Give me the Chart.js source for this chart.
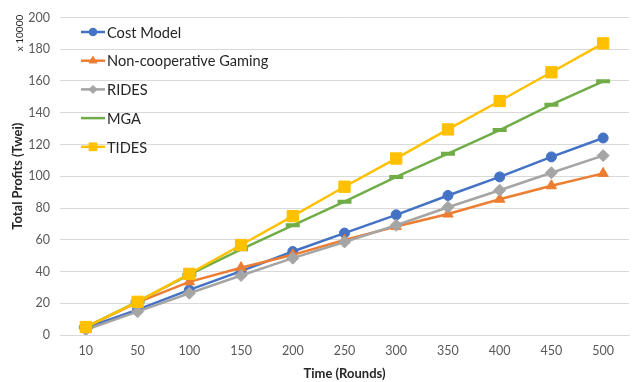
<!DOCTYPE html>
<html>
<head>
<meta charset="utf-8">
<script src="https://cdn.jsdelivr.net/npm/chart.js@4.4.0/dist/chart.umd.min.js"></script>
<style>
  html, body { margin: 0; padding: 0; background: #fff; overflow: hidden; }
  #wrap { width: 640px; height: 382px; }
</style>
</head>
<body>
<div id="wrap"><canvas id="profitChart"></canvas></div>
<script>
// rounds on the x axis, profits in units of 10000 Twei
const rounds = ["10", "50", "100", "150", "200", "250", "300", "350", "400", "450", "500"];
const costModel = [4.5, 16, 28.4, 40.2, 52.6, 64.2, 75.7, 87.9, 99.6, 112.2, 124.1];
const nonCoop = [5, 20.5, 33.5, 42.4, 50.5, 59.8, 68.3, 76.2, 85.5, 94, 101.8];
const rides = [3.3, 14.7, 26.3, 37.5, 48.4, 58.6, 69.1, 80.5, 91.2, 102.2, 113];
const mga = [5, 21, 38, 54, 69.1, 84, 99.6, 114.2, 129.1, 145.1, 159.8];
const tides = [5, 20.9, 38.5, 56.7, 74.9, 93.4, 111.2, 129.5, 147.4, 165.5, 183.7];

const seriesNames = ["Cost Model", "Non-cooperative Gaming", "RIDES", "MGA", "TIDES"];
const seriesColors = ["#4472C4", "#ED7D31", "#A5A5A5", "#70AD47", "#FFC000"];

const FONT = "Lato, 'Open Sans', sans-serif";

function makeDataset(i, values, style, radius, extra) {
    return Object.assign({
        label: seriesNames[i],
        data: values,
        borderColor: seriesColors[i],
        backgroundColor: seriesColors[i],
        borderWidth: 2.5,
        tension: 0,
        fill: false,
        pointStyle: style,
        pointRadius: radius,
        pointBorderWidth: 1,
        pointHoverRadius: radius,
        order: 5 - i,
    }, extra || {});
}

// legend drawn inside the plot, line + marker like the series
const innerLegend = {
    id: "innerLegend",
    afterDraw(chart) {
        const ctx = chart.ctx;
        ctx.save();
        chart.data.datasets.forEach((ds, i) => {
            const y = 32 + i * 28.7;
            ctx.strokeStyle = ds.borderColor;
            ctx.lineWidth = 2.5;
            ctx.beginPath();
            ctx.moveTo(81, y);
            ctx.lineTo(105, y);
            ctx.stroke();
            if (ds.pointStyle !== "line") {
                ctx.fillStyle = ds.backgroundColor;
                ctx.lineWidth = 1;
                Chart.helpers.drawPoint(ctx, {
                    pointStyle: ds.pointStyle,
                    radius: ds.legendRadius,
                    rotation: 0,
                    borderWidth: 1,
                }, 93, y);
            }
            ctx.fillStyle = "#262626";
            ctx.font = "14.6px " + FONT;
            ctx.textBaseline = "middle";
            ctx.textAlign = "left";
            ctx.fillText(ds.label, 107, y + 1);
        });

        // unit note beside the y axis title
        ctx.translate(20, 33);
        ctx.rotate(-Math.PI / 2);
        ctx.font = "10px " + FONT;
        ctx.fillStyle = "#262626";
        ctx.textAlign = "center";
        ctx.textBaseline = "middle";
        ctx.fillText("x 10000", 0, 0);
        ctx.restore();
    },
};

new Chart(document.getElementById("profitChart").getContext("2d"), {
    type: "line",
    data: {
        labels: rounds,
        datasets: [
            makeDataset(0, costModel, "circle", 5, { legendRadius: 3.8 }),
            makeDataset(1, nonCoop, "triangle", 6, { legendRadius: 4.5 }),
            makeDataset(2, rides, "rectRot", 6, { legendRadius: 4 }),
            makeDataset(3, mga, "line", 7, { pointBorderWidth: 4 }),
            makeDataset(4, tides, "rect", 8, { legendRadius: 5.5 }),
        ],
    },
    options: {
        responsive: true,
        maintainAspectRatio: false,
        animation: false,
        layout: { padding: { top: 12, left: 0, right: 0, bottom: 0 } },
        plugins: {
            legend: { display: false },
            tooltip: { enabled: false },
        },
        scales: {
            x: {
                offset: true,
                grid: { display: false },
                border: { color: "#d9d9d9" },
                ticks: {
                    color: "#595959",
                    font: { family: FONT, size: 12.5 },
                    padding: 0,
                    maxRotation: 0,
                },
                title: {
                    display: true,
                    text: "Time (Rounds)",
                    color: "#262626",
                    font: { family: FONT, size: 13, weight: "bold" },
                    padding: { top: 0, bottom: 0 },
                },
                afterFit(scale) { scale.height = 47; },
            },
            y: {
                min: 0,
                max: 200,
                grid: { color: "#d9d9d9", drawTicks: false },
                border: { display: false },
                ticks: {
                    stepSize: 20,
                    color: "#595959",
                    font: { family: FONT, size: 12.5 },
                    padding: 10,
                },
                title: {
                    display: true,
                    text: "Total Profits (Twei)",
                    color: "#262626",
                    font: { family: FONT, size: 13, weight: "bold" },
                    padding: { top: 10, bottom: 0 },
                },
                afterFit(scale) { scale.width = 60; },
            },
        },
    },
    plugins: [innerLegend],
});
</script>
</body>
</html>
